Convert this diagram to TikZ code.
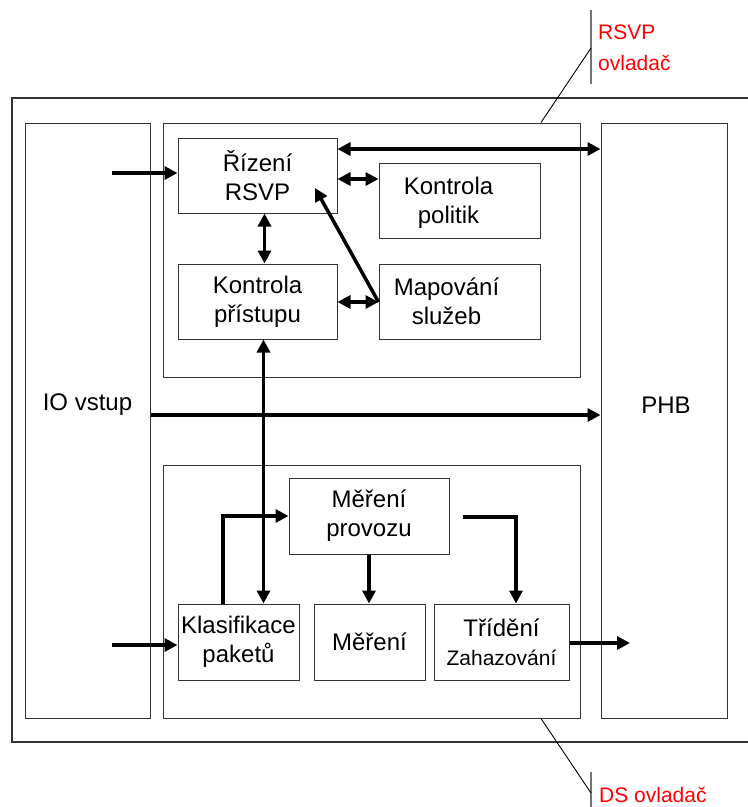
\documentclass[tikz,border=0pt]{standalone}
\usepackage{fontspec}
\setmainfont{Liberation Sans}
\usetikzlibrary{arrows.meta}

\begin{document}
\begin{tikzpicture}[x=1pt, y=-1pt,
  box/.style={draw=black!80, line width=1pt, inner sep=2pt, align=center, font=\fontsize{24}{29}\selectfont},
  grp/.style={draw=black!80, line width=1pt, inner sep=0pt},
  txt/.style={font=\fontsize{24}{29}\selectfont, inner sep=0pt, align=center},
  arr/.style={line width=3.5pt, -{Triangle[length=13pt,width=13pt]}},
  dbl/.style={line width=3.5pt, {Triangle[length=13pt,width=13pt]}-{Triangle[length=13pt,width=13pt]}},
  lead/.style={draw=black, line width=0.9pt},
  bar/.style={draw=black!55, line width=1.4pt},
  tag/.style={text=red, font=\fontsize{21}{31}\selectfont, anchor=west, align=left, inner sep=0pt}]
\useasboundingbox (0,0) rectangle (748,807);
\draw[draw=black!80, line width=1.3pt] (748,98) -| (12,742) -- (748,742);
% side blocks and the two groups
\node[grp, minimum width=125pt, minimum height=595pt] (io) at (87.5,420.5) {};
\node[txt] (iotxt) at (87.5,405) {IO vstup};
\node[grp, minimum width=126pt, minimum height=595pt] (phb) at (664,420.5) {};
\node[txt] (phbtxt) at (666,405) {PHB};
\node[grp, minimum width=417pt, minimum height=254pt] (upper) at (371.5,250) {};
\node[grp, minimum width=417pt, minimum height=253pt] (lower) at (371.5,591.5) {};
% RSVP part
\node[box, minimum width=159pt, minimum height=75pt] (rizeni) at (257.5,175.5) {Řízení\\RSVP};
\node[box, minimum width=161pt, minimum height=75pt, label={[txt, xshift=-11pt, yshift=-2pt]center:Kontrola\\politik}] (politik) at (459.5,200.5) {};
\node[box, minimum width=159pt, minimum height=75pt] (pristup) at (257.5,301.5) {Kontrola\\přístupu};
\node[box, minimum width=161pt, minimum height=75pt, label={[txt, xshift=-13pt]center:Mapování\\služeb}] (mapovani) at (459.5,301.5) {};
% DS part
\node[box, minimum width=160pt, minimum height=76pt] (provoz) at (369,516) {Měření\\provozu};
\node[box, minimum width=121pt, minimum height=76pt] (klasif) at (238.5,642) {Klasifikace\\paketů};
\node[box, minimum width=111pt, minimum height=76pt] (mereni) at (369.5,642) {Měření};
\node[box, minimum width=135pt, minimum height=76pt] (trideni) at (501.5,642) {Třídění\\{\fontsize{21}{26}\selectfont Zahazování}};
% connectors
\coordinate (in1) at (112,173);
\coordinate (in2) at (112,645);
\coordinate (rtip) at (315,188);
\coordinate (fork) at (463,517);
\coordinate (out) at (630,643);
\draw[arr] (in1) -- (in1 -| rizeni.west);
\draw[dbl] (rizeni.east |- 0,149) -- (phb.west |- 0,149);
\draw[dbl] (rizeni.east |- 0,179) -- (politik.west |- 0,179);
\draw[dbl] ([xshift=7pt]rizeni.south) -- ([xshift=7pt]pristup.north);
\draw[dbl] (pristup.east |- 0,302) -- (mapovani.west |- 0,302);
\draw[arr] (mapovani.west |- 0,302) -- (rtip);
\draw[arr] (io.east |- 0,415) -- (phb.west |- 0,415);
\draw[dbl] ([xshift=6pt]pristup.south) -- ([xshift=6pt]pristup.south |- klasif.north);
\draw[arr] (in2) -- (in2 -| klasif.west);
\draw[arr] ([xshift=-15.5pt]klasif.north) |- (provoz.west);
\draw[arr] (provoz.south) -- (provoz.south |- mereni.north);
\draw[arr] (fork) -| ([xshift=14.5pt]trideni.north);
\draw[arr] (trideni.east |- out) -- (out);
% controller callouts
\node[tag] (rsvp) at (598,48) {RSVP\\ovladač};
\node[tag] (ds) at (599,795) {DS ovladač};
\draw[bar] (591,10) -- (591,84);
\draw[lead] (591,48) -- (541,0 |- upper.north);
\draw[bar] (591,772) -- (591,807);
\draw[lead] (541,0 |- lower.south) -- (591,793);
\end{tikzpicture}
\end{document}
